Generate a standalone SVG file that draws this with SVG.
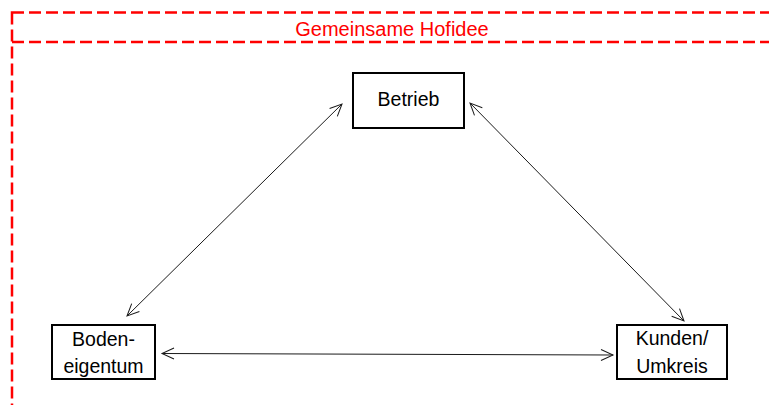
<svg xmlns="http://www.w3.org/2000/svg" width="769" height="405" viewBox="0 0 769 405">
  <style>
    .frame { fill: none; stroke: #ff0000; stroke-width: 2.5; stroke-dasharray: 12 5; }
    .title { font-family: "Liberation Sans", Arial, sans-serif; font-size: 20px; fill: #ff0000; text-anchor: middle; }
    .box { fill: #ffffff; stroke: #000000; stroke-width: 2; }
    .label { font-family: "Liberation Sans", Arial, sans-serif; font-size: 19.5px; fill: #000000; text-anchor: middle; }
    .conn { fill: none; stroke: #1a1a1a; stroke-width: 1; marker-start: url(#arr); marker-end: url(#arr); }
  </style>
  <defs>
    <marker id="arr" markerUnits="userSpaceOnUse" viewBox="-14 -8 16 16" markerWidth="16" markerHeight="16" refX="0" refY="0" orient="auto-start-reverse">
      <path d="M -12 -5.5 L 0 0 L -12 5.5" fill="none" stroke="#1a1a1a" stroke-width="1"/>
    </marker>
  </defs>
  <rect width="769" height="405" fill="#ffffff"/>
  <g id="hofidee">
    <rect class="frame" x="12" y="12.5" width="800" height="430"/>
    <line class="frame" x1="12" y1="42" x2="800" y2="42"/>
    <text class="title" x="392" y="36">Gemeinsame Hofidee</text>
  </g>
  <g id="connectors">
    <line class="conn" x1="127" y1="316" x2="342" y2="104"/>
    <line class="conn" x1="470" y1="103" x2="684" y2="321"/>
    <line class="conn" x1="162" y1="353.5" x2="613" y2="355"/>
  </g>
  <g id="betrieb">
    <rect class="box" x="353" y="73" width="111" height="55"/>
    <text class="label" x="408.5" y="106">Betrieb</text>
  </g>
  <g id="bodeneigentum">
    <rect class="box" x="52" y="325" width="103" height="54"/>
    <text class="label" x="103.5" y="346">Boden-</text>
    <text class="label" x="103.5" y="373">eigentum</text>
  </g>
  <g id="kunden">
    <rect class="box" x="617" y="325" width="110" height="54"/>
    <text class="label" x="672" y="345">Kunden/</text>
    <text class="label" x="672" y="373">Umkreis</text>
  </g>
</svg>
